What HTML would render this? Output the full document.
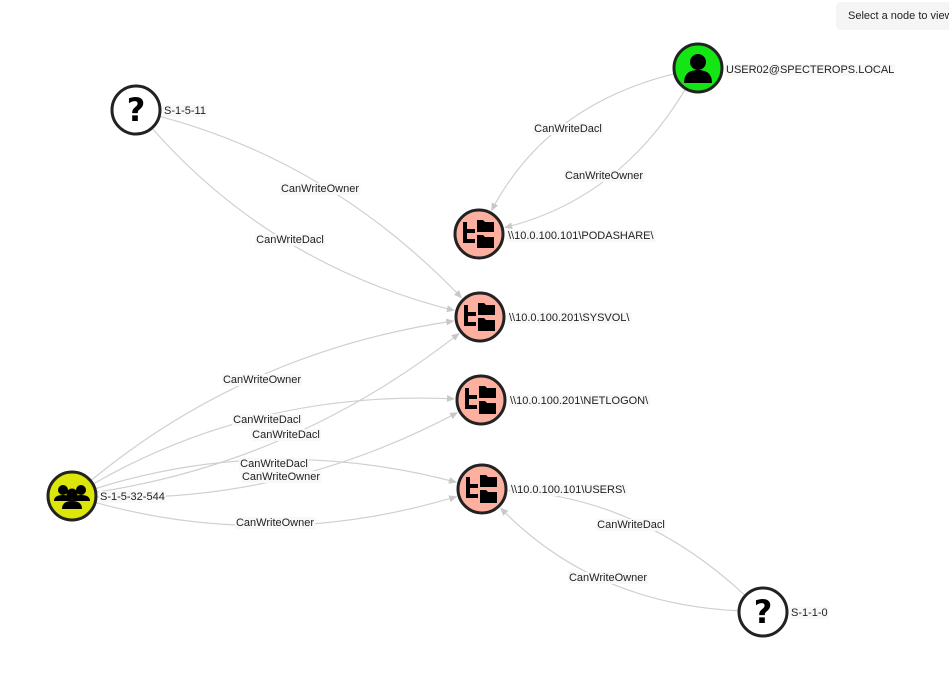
<!DOCTYPE html>
<html><head><meta charset="utf-8"><style>
html,body{margin:0;padding:0;background:#fff;width:949px;height:685px;overflow:hidden;font-family:"Liberation Sans",sans-serif}
.btn{position:absolute;left:836px;top:2px;width:140px;height:28px;background:#f5f5f5;border-radius:5px;font-size:11px;line-height:29px;padding-left:12px;color:#222;white-space:nowrap}
</style></head><body>
<svg id="s" width="949" height="685" style="position:absolute;left:0;top:0">
<defs><marker id="a" markerWidth="8" markerHeight="8" refX="7" refY="4" orient="auto" markerUnits="userSpaceOnUse"><path d="M0,0.5 L8,4 L0,7.5 z" fill="#c8c8c8"/></marker>
<g id="q"><circle r="24" fill="#fff" stroke="#222" stroke-width="3"/><text y="11" text-anchor="middle" font-size="32" font-family="DejaVu Sans, sans-serif" font-weight="bold">?</text></g>
<g id="f"><circle r="24" fill="#fdb0a0" stroke="#222" stroke-width="3"/><path d="M-14,-12 v19 h10 M-14,-3 h10" stroke="#000" stroke-width="4" fill="none"/><path d="M-2,-14 h6 l2,2 h9 v10 h-17 z M-2,1 h6 l2,2 h9 v11 h-17 z" fill="#000"/></g>
</defs>
<g id="edges"></g><g id="labels"></g><g id="nodes"></g>
</svg>
<div class="btn">Select a node to view</div>
<script>
const N={s11:[136,110],u:[698,68],pod:[479,234],sys:[480,317],net:[481,400],usr:[482,489],g:[72,496],s0:[763,612]};
const E=[["s11","sys","CanWriteOwner",320,188],["s11","sys","CanWriteDacl",290,239],["u","pod","CanWriteDacl",568,128],["u","pod","CanWriteOwner",604,175],
["g","sys","CanWriteOwner",262,379],["g","net","CanWriteDacl",267,419],["g","sys","CanWriteDacl",286,434],["g","usr","CanWriteDacl",274,463],["g","net","CanWriteOwner",281,476],["g","usr","CanWriteOwner",275,522],
["s0","usr","CanWriteDacl",631,524],["s0","usr","CanWriteOwner",608,577]];
const ns="http://www.w3.org/2000/svg";
function el(t,a,p,txt){const e=document.createElementNS(ns,t);for(const k in a)e.setAttribute(k,a[k]);if(txt)e.textContent=txt;document.getElementById(p).appendChild(e);return e;}
function lab(x,y,t,anchor){const tx=el("text",{x:x,y:y+4,"font-size":"11",fill:"#222","text-anchor":anchor||"middle","font-family":"Liberation Sans, sans-serif"},"labels",t);const b=tx.getBBox();const r=el("rect",{x:b.x-1,y:b.y,width:b.width+2,height:b.height,fill:"#f8f8f8"},"labels");tx.parentNode.insertBefore(r,tx);}
E.forEach(([a,b,t,mx,my])=>{const[x0,y0]=N[a],[x2,y2]=N[b];const cx=2*mx-(x0+x2)/2,cy=2*my-(y0+y2)/2;
let dx=x2-cx,dy=y2-cy,l=Math.hypot(dx,dy);let ex=x2-dx/l*27,ey=y2-dy/l*27;
let sx=x0+(cx-x0)/Math.hypot(cx-x0,cy-y0)*25,sy=y0+(cy-y0)/Math.hypot(cx-x0,cy-y0)*25;
el("path",{d:`M${sx},${sy} Q${cx},${cy} ${ex},${ey}`,stroke:"#d0d0d0","stroke-width":"1.2",fill:"none","marker-end":"url(#a)"},"edges");lab(mx,my,t);});
function use(id,[x,y]){el("use",{href:"#"+id,x:x,y:y},"nodes");}
use("q",N.s11);use("q",N.s0);["pod","sys","net","usr"].forEach(k=>use("f",N[k]));
let [ux,uy]=N.u;el("circle",{cx:ux,cy:uy,r:24,fill:"#14e614",stroke:"#222","stroke-width":3},"nodes");
el("circle",{cx:ux,cy:uy-6,r:8,fill:"#000"},"nodes");el("path",{d:`M${ux-14},${uy+15} q0,-13 14,-13 q14,0 14,13 z`,fill:"#000"},"nodes");
let [gx,gy]=N.g;el("circle",{cx:gx,cy:gy,r:24,fill:"#dde60a",stroke:"#222","stroke-width":3},"nodes");
[[-9,-6,5],[9,-6,5],[0,-2,5.5]].forEach(([x,y,r])=>el("circle",{cx:gx+x,cy:gy+y,r:r,fill:"#000"},"nodes"));
el("path",{d:`M${gx-18},${gy+5} q0,-6 9,-6 q9,0 9,6 z M${gx},${gy+5} q0,-6 9,-6 q9,0 9,6 z M${gx-10},${gy+13} q0,-8 10,-8 q10,0 10,8 z`,fill:"#000"},"nodes");
lab(164,110,"S-1-5-11","start");lab(726,69,"USER02@SPECTEROPS.LOCAL","start");lab(508,235,"\\\\10.0.100.101\\PODASHARE\\","start");
lab(509,317,"\\\\10.0.100.201\\SYSVOL\\","start");lab(510,400,"\\\\10.0.100.201\\NETLOGON\\","start");lab(511,489,"\\\\10.0.100.101\\USERS\\","start");
lab(100,496,"S-1-5-32-544","start");lab(791,612,"S-1-1-0","start");
</script>
</body></html>
